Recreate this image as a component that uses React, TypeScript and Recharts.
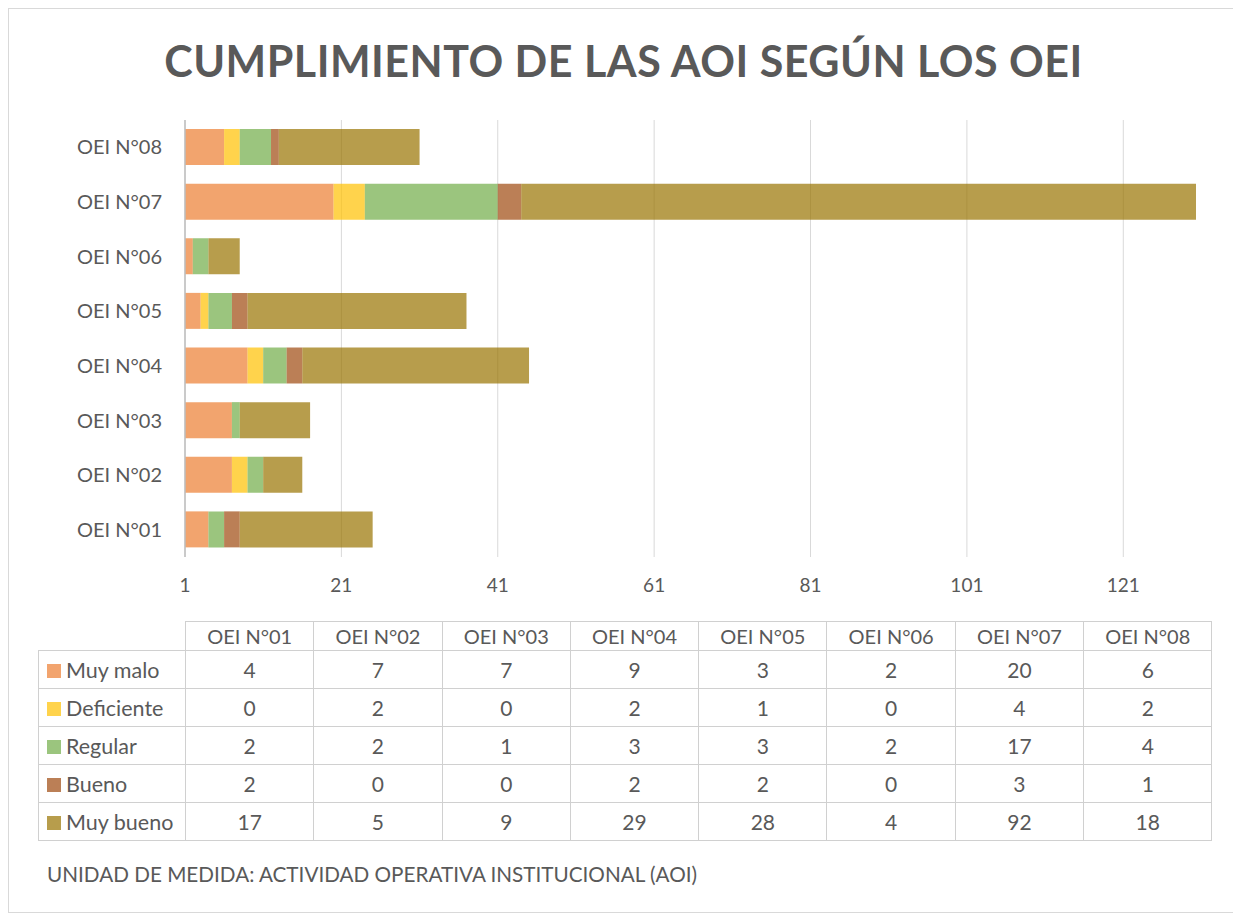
import { BarChart, Bar, XAxis, YAxis, CartesianGrid } from 'recharts';

const categories = ['OEI N°01', 'OEI N°02', 'OEI N°03', 'OEI N°04', 'OEI N°05', 'OEI N°06', 'OEI N°07', 'OEI N°08'];
const muyMalo = [4, 7, 7, 9, 3, 2, 20, 6];
const deficiente = [0, 2, 0, 2, 1, 0, 4, 2];
const regular = [2, 2, 1, 3, 3, 2, 17, 4];
const bueno = [2, 0, 0, 2, 2, 0, 3, 1];
const muyBueno = [17, 5, 9, 29, 28, 4, 92, 18];
const xTicks = [1, 21, 41, 61, 81, 101, 121];
const xDomain = [1, 130.3];

const series = [
  { key: 'muyMalo', name: 'Muy malo', values: muyMalo, color: '#ED7D31' },
  { key: 'deficiente', name: 'Deficiente', values: deficiente, color: '#FFC000' },
  { key: 'regular', name: 'Regular', values: regular, color: '#70AD47' },
  { key: 'bueno', name: 'Bueno', values: bueno, color: '#9E480E' },
  { key: 'muyBueno', name: 'Muy bueno', values: muyBueno, color: '#997300' },
];

// chart rows go top to bottom, so OEI N°08 comes first
const chartData = categories
  .map((name, i) => {
    const row: Record<string, string | number> = { name };
    series.forEach((s) => { row[s.key] = s.values[i]; });
    return row;
  })
  .reverse();

const grey = '#595959';
const border = '1px solid #D0D0D0';
const font = 'Lato, "Open Sans", sans-serif';

// gridlines only at the tick values (no line at the clipped right edge)
const gridX = ({ offset }: any) =>
  xTicks.map((t) => offset.left + ((t - xDomain[0]) / (xDomain[1] - xDomain[0])) * offset.width);

export default function App() {
  return (
    <div style={{ position: 'relative', width: 1231, height: 905, border: '1px solid #D9D9D9', boxSizing: 'border-box', fontFamily: font, background: '#fff' }}>
      <div style={{ position: 'absolute', left: 0, right: 0, top: 26, textAlign: 'center', fontSize: 43, fontWeight: 700, color: grey, letterSpacing: 0.5 }}>
        CUMPLIMIENTO DE LAS AOI SEGÚN LOS OEI
      </div>

      <div style={{ position: 'absolute', left: 0, top: 0 }}>
        <BarChart width={1229} height={608} data={chartData} layout="vertical" barSize={36}
          margin={{ top: 111, right: 42, left: 0, bottom: 0 }}>
          <CartesianGrid horizontal={false} stroke="#D9D9D9" verticalCoordinatesGenerator={gridX} />
          <XAxis type="number" domain={xDomain} allowDataOverflow ticks={xTicks} axisLine={false}
            tickLine={false} tickSize={0} tickMargin={22} height={60}
            tick={{ fill: grey, fontSize: 19, fontFamily: font }} />
          <YAxis type="category" dataKey="name" width={176} axisLine={{ stroke: '#BFBFBF', strokeWidth: 1.5 }}
            tickLine={false} tickSize={0} tickMargin={23}
            tick={{ fill: grey, fontSize: 20, fontFamily: font }} />
          {series.map((s) => (
            <Bar key={s.key} dataKey={s.key} name={s.name} stackId="a" fill={s.color} fillOpacity={0.7} isAnimationActive={false} />
          ))}
        </BarChart>
      </div>

      <table style={{ position: 'absolute', left: 29, top: 612, borderCollapse: 'collapse', color: grey, fontSize: 20, fontFamily: font, tableLayout: 'fixed' }}>
        <colgroup>
          <col style={{ width: 147 }} />
          {categories.map((c) => <col key={c} style={{ width: 128.3 }} />)}
        </colgroup>
        <tbody>
          <tr style={{ height: 29 }}>
            <td style={{ border: 'none', borderBottom: border }} />
            {categories.map((c) => (
              <td key={c} style={{ border, textAlign: 'center', padding: 0 }}>{c}</td>
            ))}
          </tr>
          {series.map((s) => (
            <tr key={s.key} style={{ height: 38 }}>
              <td style={{ border, padding: '0 0 0 8px', whiteSpace: 'nowrap', fontSize: 21.5 }}>
                <span style={{ display: 'inline-block', width: 14, height: 14, background: s.color, opacity: 0.7, marginRight: 5 }} />
                {s.name}
              </td>
              {s.values.map((v, i) => (
                <td key={i} style={{ border, textAlign: 'center', padding: 0, fontSize: 21 }}>{v}</td>
              ))}
            </tr>
          ))}
        </tbody>
      </table>

      <div style={{ position: 'absolute', left: 38, top: 853, fontSize: 20.7, color: grey }}>
        UNIDAD DE MEDIDA: ACTIVIDAD OPERATIVA INSTITUCIONAL (AOI)
      </div>
    </div>
  );
}
